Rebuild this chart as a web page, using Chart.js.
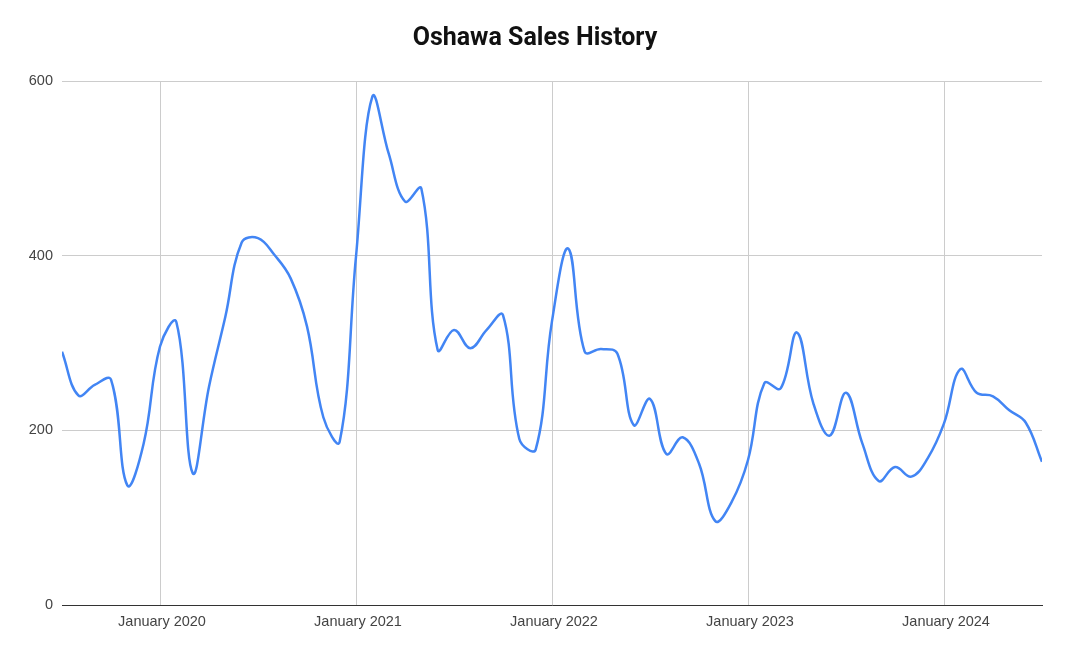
<!DOCTYPE html>
<html lang="en">
<head>
    <meta charset="UTF-8">
    <title>Oshawa Sales History</title>
    <script src="https://cdn.jsdelivr.net/npm/chart.js"></script>
    <style>
        html, body { margin: 0; padding: 0; background: #fff; }
        #wrap { width: 1070px; height: 657px; }
    </style>
</head>
<body>
    <div id="wrap"><canvas id="salesChart"></canvas></div>
    <script>
        // monthly, July 2019 .. July 2024
        const months = [
            '2019-07', '2019-08', '2019-09', '2019-10', '2019-11', '2019-12',
            '2020-01', '2020-02', '2020-03', '2020-04', '2020-05', '2020-06',
            '2020-07', '2020-08', '2020-09', '2020-10', '2020-11', '2020-12',
            '2021-01', '2021-02', '2021-03', '2021-04', '2021-05', '2021-06',
            '2021-07', '2021-08', '2021-09', '2021-10', '2021-11', '2021-12',
            '2022-01', '2022-02', '2022-03', '2022-04', '2022-05', '2022-06',
            '2022-07', '2022-08', '2022-09', '2022-10', '2022-11', '2022-12',
            '2023-01', '2023-02', '2023-03', '2023-04', '2023-05', '2023-06',
            '2023-07', '2023-08', '2023-09', '2023-10', '2023-11', '2023-12',
            '2024-01', '2024-02', '2024-03', '2024-04', '2024-05', '2024-06',
            '2024-07'
        ];
        const sales = [
            290, 240, 252, 258, 137, 185,
            296, 324, 151, 250, 330, 415,
            420, 401, 374, 319, 215, 187,
            399, 582, 517, 462, 477, 292,
            315, 294, 315, 332, 190, 178,
            325, 408, 290, 293, 288, 206,
            236, 173, 192, 162, 96, 118,
            166, 254, 248, 312, 231, 194,
            243, 185, 142, 158, 147, 168,
            208, 270, 243, 239, 223, 209,
            164
        ];
        const yearTicks = ['January 2020', 'January 2021', 'January 2022', 'January 2023', 'January 2024'];
        const yTicks = [0, 200, 400, 600];

        const monthNames = ['January', 'February', 'March', 'April', 'May', 'June', 'July',
            'August', 'September', 'October', 'November', 'December'];
        function labelFor(i) {
            const [y, m] = months[i].split('-');
            return monthNames[parseInt(m, 10) - 1] + ' ' + y;
        }

        const points = sales.map((v, i) => ({ x: i, y: v }));

        new Chart(document.getElementById('salesChart'), {
            type: 'line',
            data: {
                datasets: [{
                    label: 'Sales',
                    data: points,
                    borderColor: '#4285f4',
                    borderWidth: 2.5,
                    pointRadius: 0,
                    tension: 0.4,
                    fill: false
                }]
            },
            options: {
                responsive: true,
                maintainAspectRatio: false,
                animation: false,
                layout: { padding: 0 },
                plugins: {
                    legend: { display: false },
                    tooltip: { enabled: false },
                    title: {
                        display: true,
                        text: 'Oshawa Sales History',
                        color: '#111',
                        font: { family: 'Roboto', size: 25, weight: 'bold' },
                        padding: { top: 24, bottom: 27 }
                    }
                },
                scales: {
                    x: {
                        type: 'linear',
                        min: 0,
                        max: months.length - 1,
                        afterBuildTicks: function(scale) {
                            scale.ticks = months
                                .map((m, i) => ({ value: i, label: labelFor(i) }))
                                .filter(t => yearTicks.includes(t.label));
                        },
                        afterFit: function(scale) { scale.height = 52; },
                        ticks: {
                            autoSkip: false,
                            maxRotation: 0,
                            padding: 8,
                            labelOffset: 2,
                            color: '#444',
                            font: { family: 'Liberation Sans', size: 14.5 },
                            callback: function(value) { return labelFor(value); }
                        },
                        grid: { color: '#cccccc', drawTicks: false },
                        border: { color: '#333', width: 1 }
                    },
                    y: {
                        min: 0,
                        max: 600,
                        afterBuildTicks: function(scale) {
                            scale.ticks = yTicks.map(v => ({ value: v }));
                        },
                        afterFit: function(scale) { scale.width = 62; },
                        ticks: {
                            padding: 9,
                            color: '#444',
                            font: { family: 'Liberation Sans', size: 14.5 }
                        },
                        grid: { color: '#cccccc', drawTicks: false },
                        border: { display: false }
                    },
                    // empty right gutter so the title centres on the whole canvas
                    yRight: {
                        position: 'right',
                        afterFit: function(scale) { scale.width = 28; },
                        ticks: { display: false },
                        grid: { display: false, drawTicks: false },
                        border: { display: false }
                    }
                }
            }
        });
    </script>
</body>
</html>
